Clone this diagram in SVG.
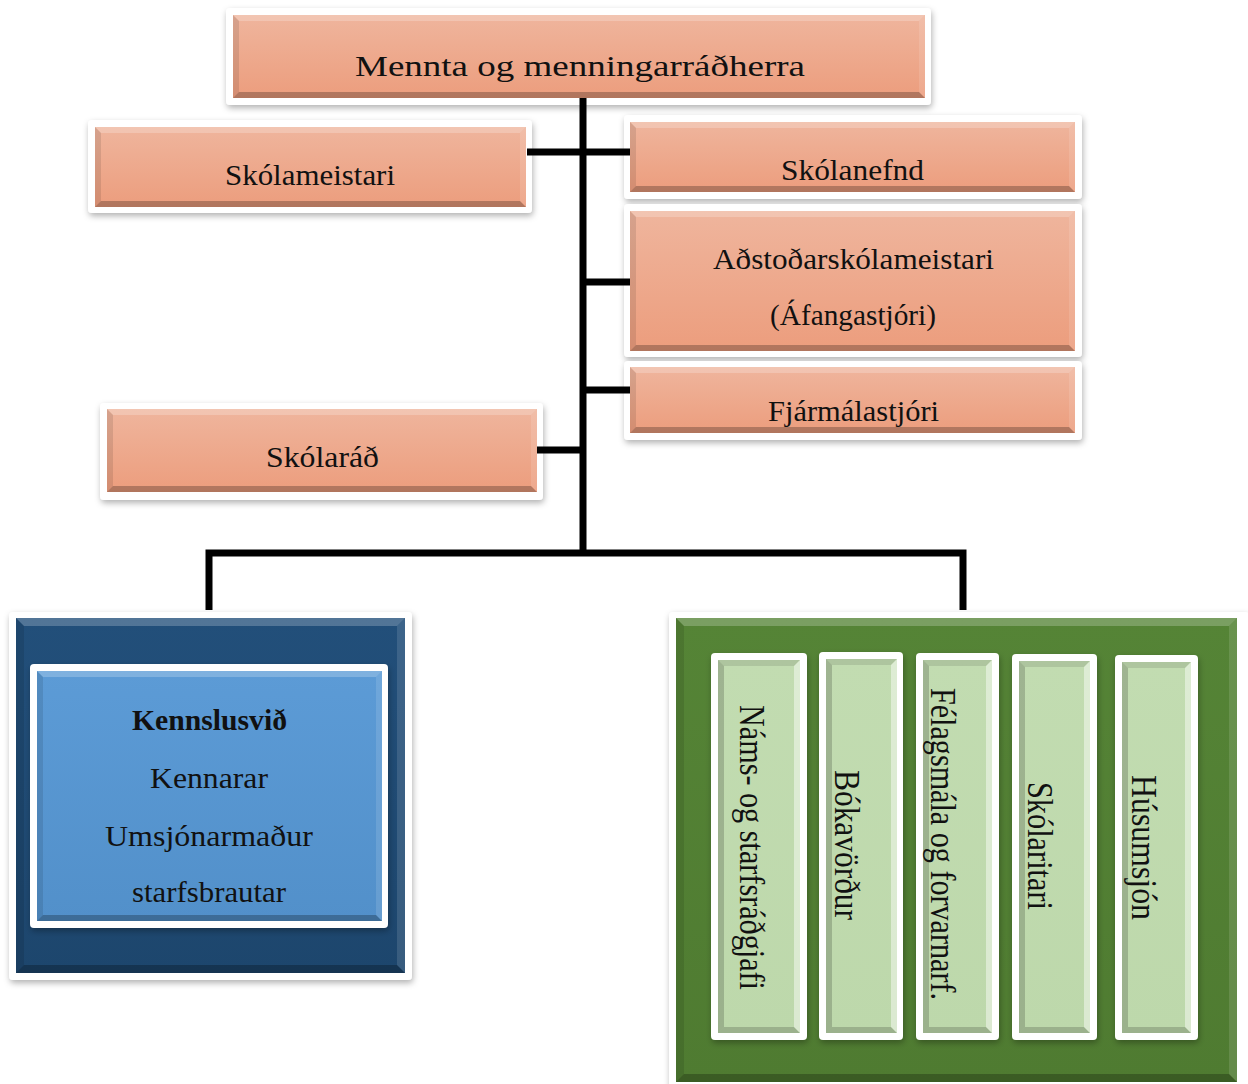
<svg xmlns="http://www.w3.org/2000/svg" width="1248" height="1084" viewBox="0 0 1248 1084">
<defs>
<filter id="sh" x="-10%" y="-10%" width="120%" height="125%">
<feDropShadow dx="1" dy="3" stdDeviation="3" flood-color="#000" flood-opacity="0.3"/>
</filter>
<linearGradient id="gO" x1="0" y1="0" x2="0" y2="1"><stop offset="0" stop-color="#EFB59D"/><stop offset="1" stop-color="#EC9D7D"/></linearGradient>
<linearGradient id="gBD" x1="0" y1="0" x2="0" y2="1"><stop offset="0" stop-color="#224F7A"/><stop offset="1" stop-color="#1D466D"/></linearGradient>
<linearGradient id="gBL" x1="0" y1="0" x2="0" y2="1"><stop offset="0" stop-color="#5C9BD6"/><stop offset="1" stop-color="#5290CA"/></linearGradient>
<linearGradient id="gGD" x1="0" y1="0" x2="0" y2="1"><stop offset="0" stop-color="#558436"/><stop offset="1" stop-color="#4F7B31"/></linearGradient>
<linearGradient id="gGL" x1="0" y1="0" x2="0" y2="1"><stop offset="0" stop-color="#C2DCB1"/><stop offset="1" stop-color="#BDD8AB"/></linearGradient>
</defs>
<style>
.fr{fill:#fff;filter:url(#sh)}
.o{fill:url(#gO)}
.bd{fill:url(#gBD)}
.bl{fill:url(#gBL)}
.gd{fill:url(#gGD)}
.gl{fill:url(#gGL)}
.bt{fill:#fff;opacity:.22}
.bb{fill:#000;opacity:.25}
.bL{fill:#000;opacity:.1}
.bR{fill:#fff;opacity:.12}
.lg .bt{fill:#000;opacity:.1}
.lg .bR{fill:#fff;opacity:.45}
.lg .bL{fill:#000;opacity:.18}
.lg .bb{fill:#000;opacity:.18}
.t{font-family:"Liberation Serif","Times New Roman",serif;fill:#111;font-size:30px}
.tv{font-family:"Liberation Serif","Times New Roman",serif;fill:#111;font-size:35px}
.con{fill:none;stroke:#000;stroke-width:7;stroke-linejoin:miter}
</style>

<g id="minister">
<rect class="fr" x="226" y="8" width="705" height="97" rx="4"/>
<rect class="o" x="233" y="15" width="692" height="83"/>
<polygon class="bt" points="233,15 925,15 919,21 239,21"/>
<polygon class="bb" points="233,98 925,98 919,92 239,92"/>
<polygon class="bL" points="233,15 239,21 239,92 233,98"/>
<polygon class="bR" points="925,15 919,21 919,92 925,98"/>
<text class="t" x="355" y="76" font-size="36" textLength="450" lengthAdjust="spacingAndGlyphs">Mennta og menningarráðherra</text>
</g>

<g id="skolameistari">
<rect class="fr" x="88" y="120" width="444" height="93" rx="4"/>
<rect class="o" x="95" y="127" width="431" height="80"/>
<polygon class="bt" points="95,127 526,127 520,133 101,133"/>
<polygon class="bb" points="95,207 526,207 520,201 101,201"/>
<polygon class="bL" points="95,127 101,133 101,201 95,207"/>
<polygon class="bR" points="526,127 520,133 520,201 526,207"/>
<text class="t" x="225" y="185" textLength="170" lengthAdjust="spacingAndGlyphs">Skólameistari</text>
</g>

<g id="skolanefnd">
<rect class="fr" x="624" y="115" width="458" height="84" rx="4"/>
<rect class="o" x="630" y="122" width="445" height="70"/>
<polygon class="bt" points="630,122 1075,122 1069,128 636,128"/>
<polygon class="bb" points="630,192 1075,192 1069,186 636,186"/>
<polygon class="bL" points="630,122 636,128 636,186 630,192"/>
<polygon class="bR" points="1075,122 1069,128 1069,186 1075,192"/>
<text class="t" x="781" y="180" textLength="143" lengthAdjust="spacingAndGlyphs">Skólanefnd</text>
</g>

<g id="adstodar">
<rect class="fr" x="624" y="204" width="458" height="153" rx="4"/>
<rect class="o" x="630" y="211" width="445" height="140"/>
<polygon class="bt" points="630,211 1075,211 1069,217 636,217"/>
<polygon class="bb" points="630,351 1075,351 1069,345 636,345"/>
<polygon class="bL" points="630,211 636,217 636,345 630,351"/>
<polygon class="bR" points="1075,211 1069,217 1069,345 1075,351"/>
<text class="t" x="713" y="269" textLength="281" lengthAdjust="spacingAndGlyphs">Aðstoðarskólameistari</text>
<text class="t" x="770" y="325" textLength="166" lengthAdjust="spacingAndGlyphs">(Áfangastjóri)</text>
</g>

<g id="fjarmala">
<rect class="fr" x="624" y="361" width="458" height="79" rx="4"/>
<rect class="o" x="630" y="367" width="445" height="66"/>
<polygon class="bt" points="630,367 1075,367 1069,373 636,373"/>
<polygon class="bb" points="630,433 1075,433 1069,427 636,427"/>
<polygon class="bL" points="630,367 636,373 636,427 630,433"/>
<polygon class="bR" points="1075,367 1069,373 1069,427 1075,433"/>
<text class="t" x="768" y="421" textLength="171" lengthAdjust="spacingAndGlyphs">Fjármálastjóri</text>
</g>

<g id="skolarad">
<rect class="fr" x="100" y="403" width="443" height="97" rx="4"/>
<rect class="o" x="107" y="409" width="430" height="83"/>
<polygon class="bt" points="107,409 537,409 531,415 113,415"/>
<polygon class="bb" points="107,492 537,492 531,486 113,486"/>
<polygon class="bL" points="107,409 113,415 113,486 107,492"/>
<polygon class="bR" points="537,409 531,415 531,486 537,492"/>
<text class="t" x="266" y="467" textLength="113" lengthAdjust="spacingAndGlyphs">Skólaráð</text>
</g>

<g id="kennslusvid">
<rect class="fr" x="9" y="612" width="403" height="368" rx="4"/>
<rect class="bd" x="16" y="618" width="389" height="355"/>
<polygon class="bt" points="16,618 405,618 397,626 24,626" opacity=".12"/>
<polygon class="bb" points="16,973 405,973 397,965 24,965"/>
<polygon class="bL" points="16,618 24,626 24,965 16,973"/>
<polygon class="bR" points="405,618 397,626 397,965 405,973"/>
<rect class="fr" x="30" y="664" width="358" height="264" rx="4"/>
<rect class="bl" x="37" y="671" width="345" height="250"/>
<polygon class="bt" points="37,671 382,671 376,677 43,677"/>
<polygon class="bb" points="37,921 382,921 376,915 43,915"/>
<polygon class="bL" points="37,671 43,677 43,915 37,921"/>
<polygon class="bR" points="382,671 376,677 376,915 382,921"/>
<text class="t" x="132" y="730" font-weight="bold" textLength="155" lengthAdjust="spacingAndGlyphs">Kennslusvið</text>
<text class="t" x="150" y="788" textLength="118" lengthAdjust="spacingAndGlyphs">Kennarar</text>
<text class="t" x="105" y="846" textLength="208" lengthAdjust="spacingAndGlyphs">Umsjónarmaður</text>
<text class="t" x="132" y="902" textLength="154" lengthAdjust="spacingAndGlyphs">starfsbrautar</text>
</g>

<g id="thjonusta">
<rect class="fr" x="669" y="612" width="580" height="480" rx="4"/>
<rect class="gd" x="676" y="618" width="561" height="464"/>
<polygon class="bt" points="676,618 1237,618 1229,626 684,626" opacity=".12"/>
<polygon class="bb" points="676,1082 1237,1082 1229,1074 684,1074"/>
<polygon class="bL" points="676,618 684,626 684,1074 676,1082" opacity=".22"/>
<polygon class="bR" points="1237,618 1229,626 1229,1074 1237,1082"/>
</g>

<g id="nams" class="lg">
<rect class="fr" x="711" y="653" width="96" height="387" rx="4"/>
<rect class="gl" x="718" y="660" width="82" height="373"/>
<polygon class="bt" points="718,660 800,660 794,666 724,666"/>
<polygon class="bb" points="718,1033 800,1033 794,1027 724,1027"/>
<polygon class="bL" points="718,660 724,666 724,1027 718,1033"/>
<polygon class="bR" points="800,660 794,666 794,1027 800,1033"/>
<text class="tv" transform="translate(740,705) rotate(90)" textLength="285" lengthAdjust="spacingAndGlyphs">Náms- og starfsráðgjafi</text>
</g>

<g id="bokavordur" class="lg">
<rect class="fr" x="819" y="652" width="84" height="388" rx="4"/>
<rect class="gl" x="826" y="659" width="71" height="374"/>
<polygon class="bt" points="826,659 897,659 891,665 832,665"/>
<polygon class="bb" points="826,1033 897,1033 891,1027 832,1027"/>
<polygon class="bL" points="826,659 832,665 832,1027 826,1033"/>
<polygon class="bR" points="897,659 891,665 891,1027 897,1033"/>
<text class="tv" transform="translate(835,770) rotate(90)" textLength="150" lengthAdjust="spacingAndGlyphs">Bókavörður</text>
</g>

<g id="felagsmala" class="lg">
<rect class="fr" x="916" y="653" width="83" height="387" rx="4"/>
<rect class="gl" x="923" y="660" width="69" height="373"/>
<polygon class="bt" points="923,660 992,660 986,666 929,666"/>
<polygon class="bb" points="923,1033 992,1033 986,1027 929,1027"/>
<polygon class="bL" points="923,660 929,666 929,1027 923,1033"/>
<polygon class="bR" points="992,660 986,666 986,1027 992,1033"/>
<text class="tv" transform="translate(931,688) rotate(90)" textLength="312" lengthAdjust="spacingAndGlyphs">Félagsmála og forvarnarf.</text>
</g>

<g id="skolaritari" class="lg">
<rect class="fr" x="1012" y="654" width="85" height="386" rx="4"/>
<rect class="gl" x="1019" y="661" width="71" height="372"/>
<polygon class="bt" points="1019,661 1090,661 1084,667 1025,667"/>
<polygon class="bb" points="1019,1033 1090,1033 1084,1027 1025,1027"/>
<polygon class="bL" points="1019,661 1025,667 1025,1027 1019,1033"/>
<polygon class="bR" points="1090,661 1084,667 1084,1027 1090,1033"/>
<text class="tv" transform="translate(1028,782) rotate(90)" textLength="128" lengthAdjust="spacingAndGlyphs">Skólaritari</text>
</g>

<g id="husumsjon" class="lg">
<rect class="fr" x="1115" y="655" width="83" height="385" rx="4"/>
<rect class="gl" x="1122" y="662" width="69" height="371"/>
<polygon class="bt" points="1122,662 1191,662 1185,668 1128,668"/>
<polygon class="bb" points="1122,1033 1191,1033 1185,1027 1128,1027"/>
<polygon class="bL" points="1122,662 1128,668 1128,1027 1122,1033"/>
<polygon class="bR" points="1191,662 1185,668 1185,1027 1191,1033"/>
<text class="tv" transform="translate(1132,775) rotate(90)" textLength="145" lengthAdjust="spacingAndGlyphs">Húsumsjón</text>
</g>

<g id="connectors">
<path class="con" d="M583,98 V553"/>
<path class="con" d="M527,152 H630"/>
<path class="con" d="M583,282 H630"/>
<path class="con" d="M583,390 H630"/>
<path class="con" d="M537,450 H583"/>
<path class="con" d="M209,610 V553 H963 V610"/>
</g>
</svg>
